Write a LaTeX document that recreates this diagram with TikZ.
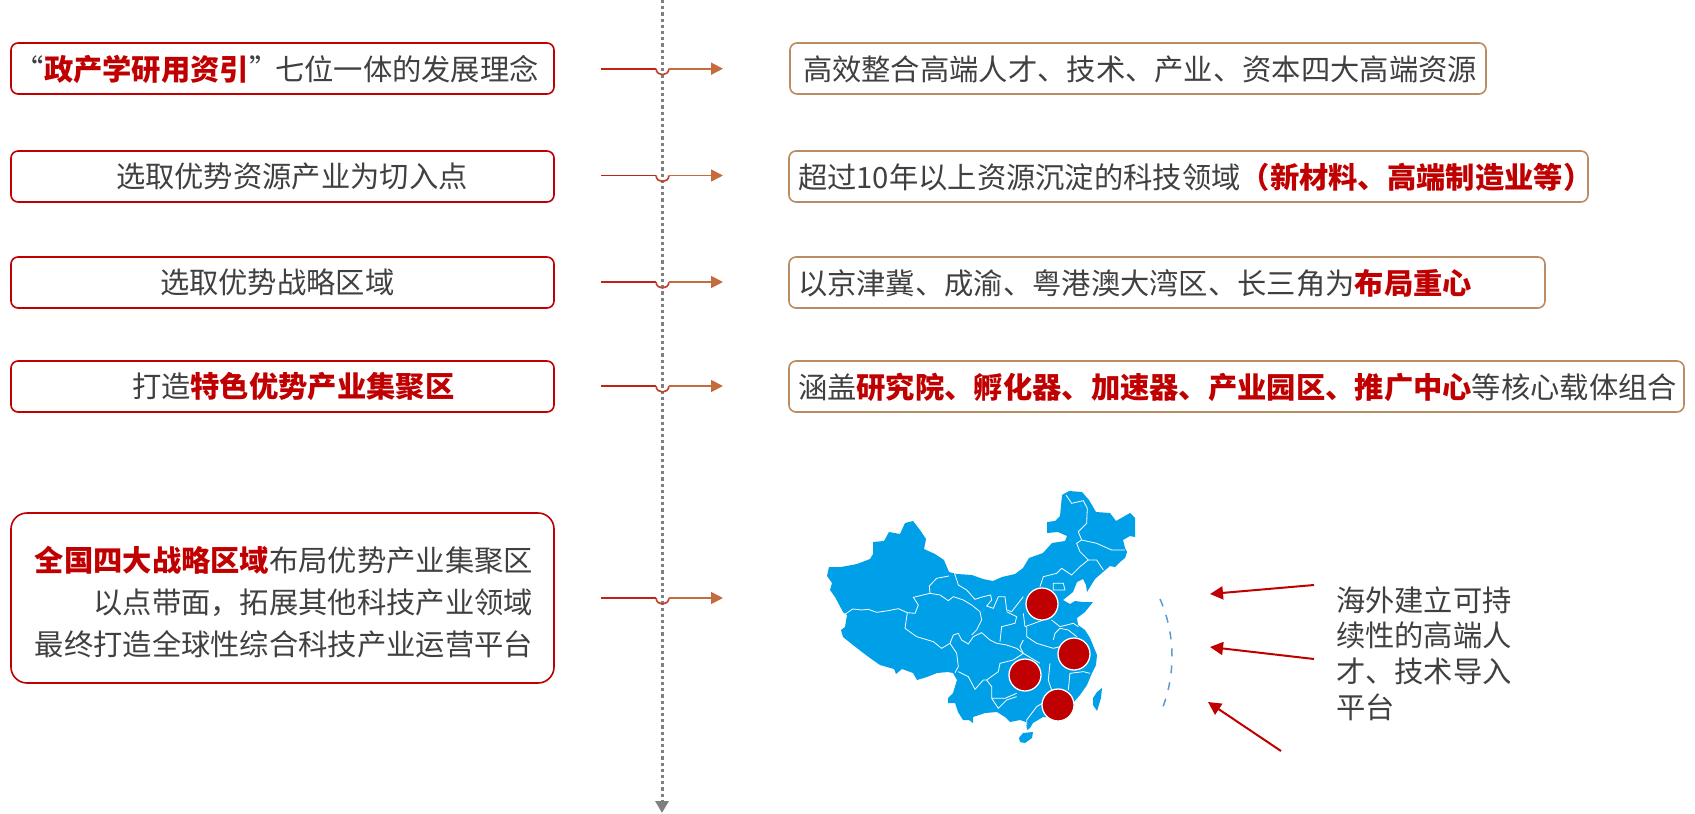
\documentclass[tikz,border=0pt]{standalone}
\usepackage{fontspec}
\setmainfont{Noto Sans CJK SC}
\usetikzlibrary{arrows.meta}
\definecolor{lred}{HTML}{C00000}
\definecolor{ltan}{HTML}{B98C62}
\definecolor{lgrey}{HTML}{404040}
\definecolor{mapblue}{HTML}{00A0E9}
\definecolor{arcblue}{HTML}{5B9BD5}
\newcommand{\hot}[1]{\textcolor{lred}{\bfseries #1}}
\tikzset{
  lbox/.style={draw=lred,line width=1.6pt,rounded corners=7pt,minimum height=51pt,inner sep=0pt},
  rbox/.style={draw=ltan,line width=1.6pt,rounded corners=7pt,minimum height=51pt,inner sep=0pt},
  txt/.style={font=\fontsize{29.3pt}{35.6pt}\selectfont,text=lgrey,inner sep=0pt,outer sep=0pt,text height=25.8pt,text depth=3.5pt},
  spot/.style={circle,draw=white,line width=1.3pt,fill=lred,minimum size=32pt,inner sep=0pt},
  seam/.style={draw=white,line width=.8pt},
  sea/.style={lred,line width=2pt,-{Triangle[length=13pt,width=13pt]}}
}
\begin{document}
\begin{tikzpicture}[x=1pt,y=-1pt]
\useasboundingbox (0,0) rectangle (1695,814);
% spine
\coordinate (top) at (662,0);
\coordinate (bot) at (662,813);
\draw[gray,line width=3pt,dash pattern=on 3.1pt off 3.1pt,-{Triangle[length=12pt,width=13pt]}] (top) -- (bot);
% left boxes
\node[lbox,minimum width=543pt] (L1) at (282.5,68.5) {};
\node[lbox,minimum width=543pt] (L2) at (282.5,176.5) {};
\node[lbox,minimum width=543pt] (L3) at (282.5,282.5) {};
\node[lbox,minimum width=543pt] (L4) at (282.5,386.5) {};
\node[lbox,minimum width=543pt,minimum height=170pt,rounded corners=16pt] (L5) at (282.5,598) {};
\node[txt,anchor=west] (T1) at (32,69) {\makebox[12pt][r]{“}\hot{政产学研用资引}\makebox[26pt][l]{”}七位一体的发展理念};
\node[txt,anchor=west] (T2) at (116,176.5) {选取优势资源产业为切入点};
\node[txt,anchor=west] (T3) at (160,282.5) {选取优势战略区域};
\node[txt,anchor=west] (T4) at (132,386.5) {打造\hot{特色优势产业集聚区}};
\node[txt,anchor=east,align=right,text height=,text depth=,font=\fontsize{29.3pt}{42pt}\selectfont] (T5) at (533,602) {\hot{全国四大战略区域}布局优势产业集聚区\\以点带面，拓展其他科技产业领域\\最终打造全球性综合科技产业运营平台};
% right boxes
\node[rbox,minimum width=696pt] (R1) at (1138,68.5) {};
\node[rbox,minimum width=799pt] (R2) at (1188.5,176.5) {};
\node[rbox,minimum width=756pt] (R3) at (1167,282.5) {};
\node[rbox,minimum width=895pt] (R4) at (1236.5,386.5) {};
\node[txt,anchor=west] (S1) at (803,69) {高效整合高端人才、技术、产业、资本四大高端资源};
\node[txt,anchor=west] (S2) at (798,177) {超过10年以上资源沉淀的科技领域\hot{（新材料、高端制造业等）}};
\node[txt,anchor=west] (S3) at (798,283) {以京津冀、成渝、粤港澳大湾区、长三角为\hot{布局重心}};
\node[txt,anchor=west] (S4) at (798,387) {涵盖\hot{研究院、孵化器、加速器、产业园区、推广中心}等核心载体组合};
% connectors over the spine
\foreach \i/\y in {1/68.7,2/175.5,3/282,4/386,5/598} {
\coordinate (a\i) at (601,\y);
\coordinate (b\i) at (723,\y);
\draw[line width=1.7pt,color=lred!75!ltan] (a\i) -- (656,\y);
\draw[line width=1.7pt,color=lred!50!ltan] (656,\y) .. controls (656.5,\y+8) and (668.5,\y+8) .. (669,\y);
\draw[line width=1.7pt,color=lred!25!ltan!85!orange,-{Triangle[length=12pt,width=12pt]}] (669,\y) -- (b\i);
}
% map
\fill[mapblue,line join=round] (827,576) -- (829,567) -- (841,567) -- (857,564) -- (870,559) -- (873,554) -- (873,542) -- (884,541) -- (889,532) -- (900,534) -- (905,523) -- (913,521) -- (920,530) -- (926,539) -- (924,549) -- (935,554) -- (944,560) -- (949,572) -- (957,574) -- (972,575) -- (983,579) -- (993,581) -- (1002,577) -- (1015,574) -- (1023,568) -- (1029,558) -- (1043,553) -- (1052,543) -- (1065,541) -- (1067,536) -- (1058,532) -- (1047,533) -- (1047,522) -- (1055,521) -- (1060,516) -- (1062,495) -- (1069,491) -- (1082,492) -- (1089,500) -- (1096,512) -- (1110,513) -- (1116,521) -- (1130,513) -- (1135,518) -- (1135,537) -- (1130,536) -- (1123,540) -- (1125,548) -- (1127,552) -- (1125,558) -- (1120,562) -- (1115,567) -- (1110,566) -- (1103,572) -- (1095,579) -- (1087,592) -- (1086,585) -- (1083,579) -- (1077,582) -- (1073,592) -- (1063,600) -- (1070,604) -- (1075,601) -- (1083,602) -- (1093,602) -- (1085,612) -- (1077,618) -- (1078,625) -- (1085,630) -- (1090,638) -- (1097,655) -- (1096,665) -- (1092,673) -- (1087,685) -- (1080,695) -- (1073,703) -- (1057,718) -- (1043,717) -- (1033,723) -- (1030,728) -- (1027,730) -- (1026,722) -- (1020,720) -- (1010,722) -- (1005,717) -- (997,712) -- (985,713) -- (973,717) -- (973,723) -- (969,720) -- (963,720) -- (958,712) -- (955,703) -- (948,703) -- (948,698) -- (953,693) -- (957,680) -- (953,673) -- (948,672) -- (937,673) -- (927,677) -- (917,680) -- (913,673) -- (902,669) -- (896,674) -- (894,669) -- (880,665) -- (870,658) -- (862,652) -- (853,645) -- (843,637) -- (841,630) -- (845,627) -- (847,615) -- (843,612) -- (835,597) -- (830,590) -- (832,583) -- cycle;
\fill[mapblue] (1093,698) -- (1097,692) -- (1102,688) -- (1101,698) -- (1097,711) -- (1093,705) -- cycle;
\fill[mapblue] (1019,738) -- (1023,733) -- (1033,732) -- (1032,738) -- (1025,743) -- (1020,742) -- cycle;
% province seams, read off at three times the size
\begin{scope}[shift={(820,480)},x=.3333pt,y=-.3333pt]
\draw[seam] (72,405) -- (98,387) -- (125,390) -- (145,388) -- (170,397) -- (205,392) -- (235,386) -- (262,398) -- (285,400) -- (295,375) -- (280,352) -- (330,340) -- (328,318) -- (350,295) -- (387,288);
\draw[seam] (403,278) -- (415,315) -- (440,330) -- (465,358) -- (490,350) -- (512,345) -- (515,360) -- (500,378) -- (520,385) -- (535,350) -- (555,350) -- (560,390) -- (575,395) -- (610,350);
\draw[seam] (330,340) -- (360,345) -- (385,362) -- (400,350) -- (430,360) -- (455,375) -- (480,395) -- (485,420) -- (470,450) -- (455,465);
\draw[seam] (262,398) -- (255,445) -- (290,470) -- (340,485) -- (365,505) -- (390,490) -- (400,465) -- (415,460) -- (425,480) -- (445,492) -- (460,470) -- (485,458) -- (510,480) -- (530,490) -- (560,495) -- (590,505) -- (610,520) -- (580,540) -- (540,550) -- (535,575) -- (500,600) -- (515,620) -- (515,655) -- (555,655) -- (590,640);
\draw[seam] (390,490) -- (410,520) -- (415,560) -- (405,578);
\draw[seam] (415,575) -- (445,590) -- (465,628) -- (490,600) -- (500,600);
\draw[seam] (610,400) -- (615,440) -- (670,420);
\draw[seam] (620,440) -- (620,470) -- (650,490) -- (700,505) -- (720,500);
\draw[seam] (560,395) -- (590,410) -- (585,430) -- (545,440) -- (540,485);
\draw[seam] (610,480) -- (600,500) -- (610,520) -- (660,550);
\draw[seam] (690,550) -- (685,600) -- (695,630);
\draw[seam] (745,630) -- (750,580) -- (790,575) -- (810,580);
\draw[seam] (695,420) -- (720,440) -- (760,430) -- (775,440);
\draw[seam] (700,480) -- (705,460) -- (720,445) -- (745,450) -- (770,470);
\draw[seam] (620,735) -- (620,720) -- (650,680) -- (675,665);
\draw[seam] (515,655) -- (535,685) -- (560,660) -- (590,650);
% north east
\draw[seam] (738,45) -- (755,70) -- (790,62) -- (802,85) -- (800,130) -- (775,155) -- (785,180) -- (770,190) -- (780,215) -- (805,240) -- (830,240) -- (850,270);
\draw[seam] (785,180) -- (830,190) -- (875,210) -- (915,210);
\draw[seam] (805,240) -- (780,260) -- (755,285) -- (725,265) -- (710,280) -- (670,290) -- (660,320);
\draw[seam] (700,310) -- (730,310) -- (735,330) -- (700,330) -- cycle;
\end{scope}
\node[spot] (C1) at (1042,604) {};
\node[spot] (C2) at (1074,654) {};
\node[spot] (C3) at (1025,675) {};
\node[spot] (C4) at (1058,705) {};
% sea routes
\coordinate (p1) at (1160,599);
\coordinate (p2) at (1160,714);
\draw[color=arcblue,line width=1.5pt,dash pattern=on 8pt off 9pt] (p1) .. controls (1176,635) and (1176,678) .. (p2);
\node[txt,anchor=north west,align=left,text height=,text depth=] (O1) at (1336,586.5) {海外建立可持\\续性的高端人\\才、技术导入\\平台};
\coordinate (s1) at (1314,585);
\coordinate (e1) at (1210,594);
\coordinate (s2) at (1314,659);
\coordinate (e2) at (1210,647);
\coordinate (s3) at (1281,751);
\coordinate (e3) at (1208,702);
\foreach \i in {1,2,3}
\draw[sea] (s\i) -- (e\i);
\end{tikzpicture}
\end{document}
